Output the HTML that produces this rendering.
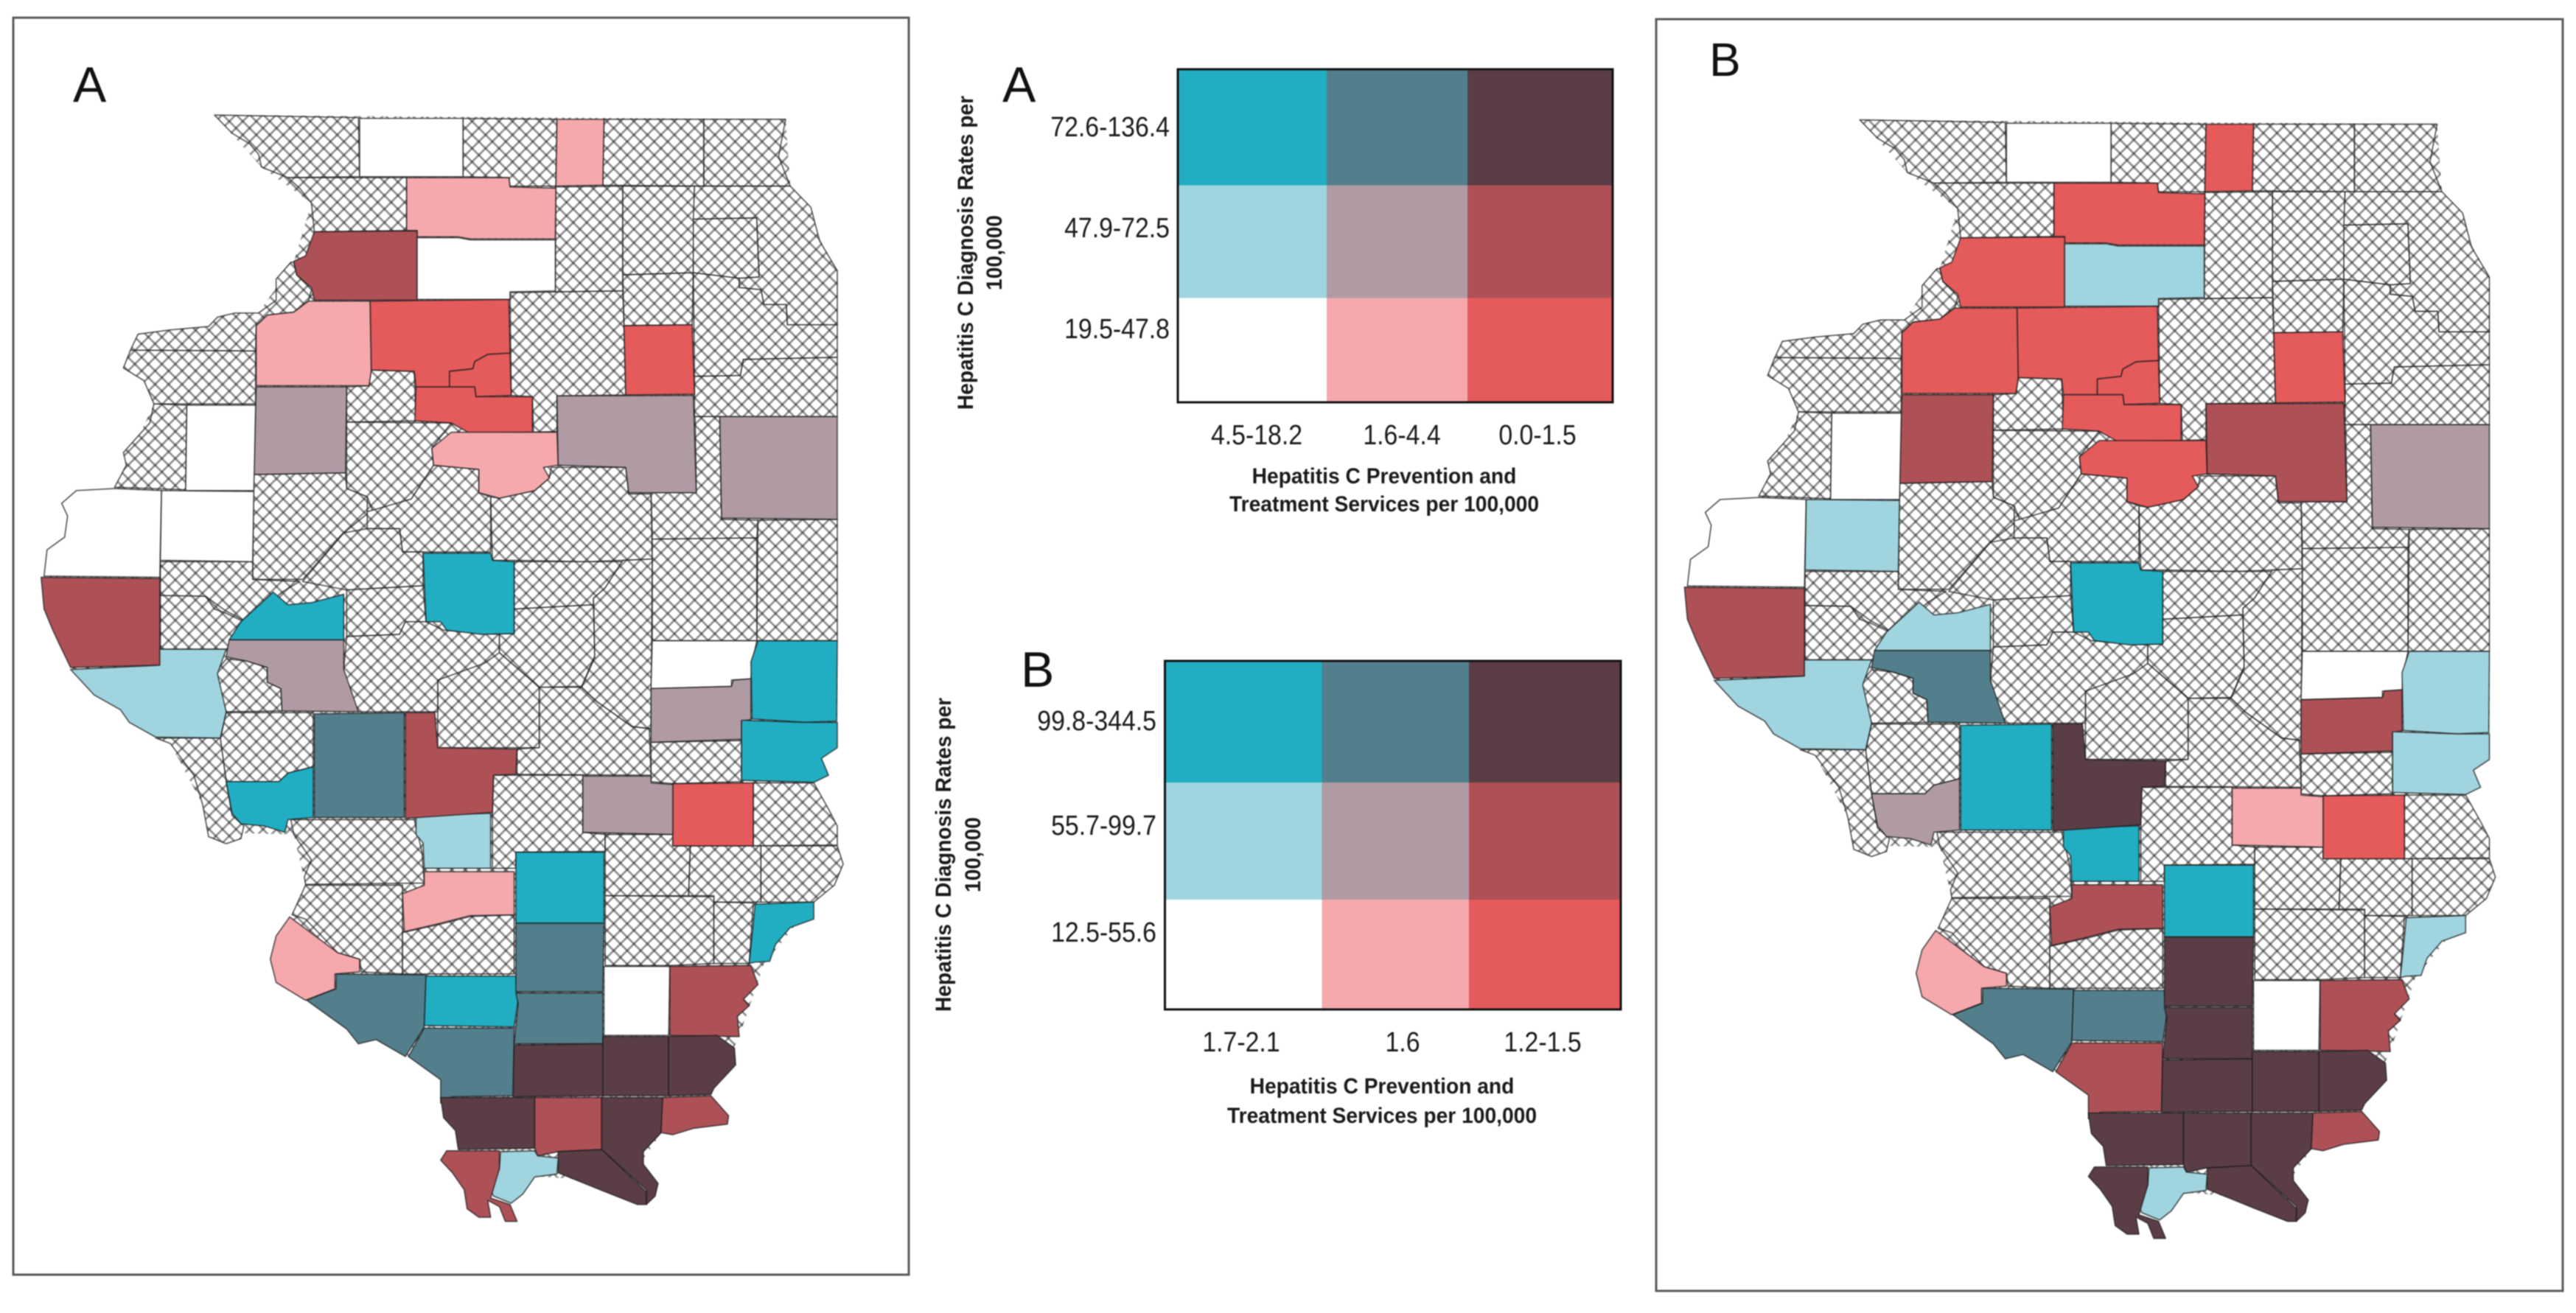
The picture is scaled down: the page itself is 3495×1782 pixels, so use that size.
<!DOCTYPE html>
<html lang="en">
<head>
<meta charset="utf-8">
<title>Hepatitis C diagnosis rates and services, Illinois bivariate maps</title>
<style>
html,body{margin:0;padding:0;background:#fff;}
svg{display:block;filter:blur(0.7px);}
text{font-family:"Liberation Sans",sans-serif;fill:#1a1a1a;}
.tick{font-size:38px;}
.title{font-size:30px;font-weight:bold;}
.panel{font-size:68px;fill:#111;}
.county{stroke:#1c1c1c;stroke-opacity:.72;stroke-width:1.7;stroke-linejoin:round;}
</style>
</head>
<body>
<svg id="figure" xmlns="http://www.w3.org/2000/svg" width="3495" height="1782" viewBox="0 0 3495 1782">
  <defs>
    <pattern id="hatch" patternUnits="userSpaceOnUse" width="18.3" height="18.3">
      <rect width="18.3" height="18.3" fill="#fff"/>
      <path d="M0 0L18.3 18.3M18.3 0L0 18.3" stroke="#8c8c8c" stroke-width="2.6" fill="none"/>
      <circle cx="9.15" cy="9.15" r="1.6" fill="#555"/>
      <circle cx="0" cy="0" r="1.6" fill="#555"/>
      <circle cx="18.3" cy="0" r="1.6" fill="#555"/>
      <circle cx="0" cy="18.3" r="1.6" fill="#555"/>
      <circle cx="18.3" cy="18.3" r="1.6" fill="#555"/>
    </pattern>
  </defs>
  <rect width="3495" height="1782" fill="#fff"/>
  <rect x="18" y="24" width="1215" height="1706" fill="#fff" stroke="#5a5a5a" stroke-width="3"/>
  <rect x="2247" y="26" width="1230" height="1726" fill="#fff" stroke="#5a5a5a" stroke-width="3"/>
  <g id="map-a"></g>
  <g id="map-b" transform="translate(2229 4.8) scale(1.011)"></g>
  <text class="panel" x="99" y="138">A</text>
  <text class="panel" x="2319" y="103" style="font-size:64px">B</text>
  <text class="panel" x="1360" y="138">A</text>
  <text class="panel" x="1385" y="932">B</text>
  <g id="legend-a"></g>
  <g id="legend-b"></g>
</svg>
<script>
// Bivariate classes: first digit = diagnosis tier, second digit = services tier, x = no data (hatched)
const classColors = {
  "20":"#21aec2","21":"#537f8d","22":"#5b3d46",
  "10":"#a0d5e0","11":"#b09ba5","12":"#ae5157",
  "00":"#ffffff","01":"#f5a9ad","02":"#e55a5a",
  "x":"url(#hatch)"
};
const legendRows = [["20","21","22"],["10","11","12"],["00","01","02"]];

const legendAXLabels = ["4.5-18.2","1.6-4.4","0.0-1.5"];
const legendAYLabels = ["72.6-136.4","47.9-72.5","19.5-47.8"];
const legendBXLabels = ["1.7-2.1","1.6","1.2-1.5"];
const legendBYLabels = ["99.8-344.5","55.7-99.7","12.5-55.6"];

const countyNames = [
"jo-daviess","stephenson","winnebago","boone","mchenry","lake","carroll","ogle","dekalb","kane",
"dupage","cook","kendall","will","kankakee","grundy","whiteside","lee","rock-island","henry",
"bureau","putnam","la-salle","marshall","stark","mercer","knox","warren","henderson","hancock",
"mcdonough","peoria","fulton","woodford","livingston","iroquois","ford","mclean","tazewell","mason",
"schuyler","adams","brown","cass","menard","logan","de-witt","vermilion","champaign","douglas",
"edgar-north","edgar","coles","clark","cumberland","jasper","effingham","fayette","montgomery","macon",
"shelby","sangamon","christian","morgan","pike","scott","greene","jersey","calhoun","macoupin",
"madison","moultrie","marion","clay","st-clair","monroe","washington","crawford","richland","lawrence",
"wayne","edwards","hamilton","wabash","randolph","perry","jefferson","franklin","hamilton-south","white",
"jackson","williamson","saline","gallatin","union","johnson","pope","hardin","massac","pulaski","alexander"];

const classesA = [
"x","00","x","01","x","x","x","01","x","x",
"x","x","x","x","x","02","12","00","x","01",
"02","02","x","02","x","x","11","00","x","00",
"00","x","x","01","11","11","x","x","x","x",
"x","12","x","20","x","20","x","x","x","x",
"00","20","11","20","x","02","11","10","12","x",
"x","x","x","11","10","x","x","20","x","21",
"x","x","01","20","x","01","x","x","x","x",
"x","x","x","20","21","20","21","21","00","12",
"21","22","22","22","22","12","22","12","22","10","12"];

const classesB = [
"x","00","x","02","x","x","x","02","x","x",
"x","x","x","x","x","02","02","10","x","02",
"02","02","x","02","x","x","12","00","x","00",
"10","x","x","02","12","11","x","x","x","x",
"x","12","x","10","x","20","x","x","x","x",
"00","10","12","10","x","02","01","20","22","x",
"x","x","x","21","10","x","x","11","x","20",
"x","x","12","20","x","01","x","x","x","x",
"x","x","x","10","21","21","22","22","00","12",
"12","22","22","22","22","22","22","12","22","10","22"];

// Outer state silhouette, hatched beneath the counties so no gaps show through
const stateOutline = "365,272 1337,282 1345,440 1425,640 1425,1708 1398,1793 1385,1850 1425,1998 1420,2093 1385,2133 1300,2280 1258,2451 1210,2588 1125,2680 1095,2740 1100,2800 900,2780 785,2715 780,2670 760,2640 755,2595 752,2553 697,2498 640,2458 610,2468 590,2433 522,2365 470,2250 497,2163 520,2093 500,1973 410,1970 345,1903 290,1758 220,1700 120,1578 75,1362 195,1155 262,955 222,828 440,740 500,620 530,480 445,395";

// County outlines; stitched tracing grid, projected by mapX / mapY
const countyOutlines = [
"365,272 610,278 612,418 490,420 445,395 440,365 425,340 395,315",
"612,280 788,280 788,418 612,418",
"788,280 948,282 946,440 868,440 866,420 788,418",
"948,282 1028,282 1026,438 946,440",
"1028,282 1198,282 1198,440 1026,438",
"1198,282 1337,282 1325,370 1345,440 1198,440",
"490,420 692,420 692,545 535,548 530,480 510,445",
"692,420 866,420 868,442 946,445 945,565 800,565 780,560 710,560 710,545 692,545",
"946,442 1060,440 1060,688 945,690",
"1060,440 1182,440 1180,645 1060,650",
"1180,518 1288,515 1292,655 1258,658 1180,645",
"1182,440 1345,440 1380,490 1395,570 1425,640 1425,768 1340,768 1338,720 1300,720 1295,685 1258,680 1258,658 1292,655 1288,515 1180,518",
"1060,650 1180,645 1178,768 1062,770",
"1180,645 1258,658 1258,680 1295,685 1300,720 1338,720 1340,768 1425,768 1425,845 1265,850 1260,888 1182,890",
"1265,850 1425,845 1425,985 1182,985 1182,890 1260,888",
"1062,770 1178,768 1182,932 1065,934",
"535,548 710,546 710,710 535,710 530,680 505,650 500,618 520,605",
"710,562 780,562 800,567 945,567 945,688 868,690 868,708 710,708",
"495,620 470,660 470,710 440,740 400,740 370,750 355,772 290,780 235,790 222,828 435,830 436,770 455,745 500,738 525,712 530,685 505,650 500,620",
"525,712 630,712 632,875 628,912 436,912 436,770 455,745 500,738",
"630,712 866,708 868,835 830,838 808,855 805,872 765,878 765,915 708,915 705,878 632,875",
"765,878 805,872 808,855 830,838 868,835 870,935 810,938 808,915 765,915",
"868,692 1060,688 1062,770 1065,934 948,936 948,1020 908,1022 906,938 870,935",
"708,915 808,915 810,938 906,938 906,1022 800,1025 768,1000 706,995",
"632,875 705,878 708,995 590,998 590,915 628,912",
"222,828 435,830 435,955 262,955 245,900 210,870",
"436,915 590,915 588,1118 432,1122",
"318,958 435,958 432,1160 316,1160",
"262,955 318,958 316,1158 195,1152 215,1100 210,1070 255,1000",
"195,1155 275,1160 272,1365 75,1362 80,1300 110,1270 115,1220 105,1190 130,1160",
"275,1160 432,1162 430,1328 273,1325",
"590,998 768,1000 735,1060 738,1100 700,1180 635,1210 625,1175 590,1155",
"432,1122 588,1118 590,1155 625,1175 625,1215 585,1260 515,1370 430,1370",
"768,1022 948,1022 950,1100 925,1105 935,1130 910,1160 850,1178 815,1165 815,1110 738,1100 735,1060",
"948,936 1180,935 1185,1165 1070,1165 1065,1105 950,1100",
"1225,985 1425,985 1425,1228 1228,1225",
"1183,985 1225,985 1228,1228 1290,1230 1288,1272 1110,1275 1108,1165 1185,1165",
"938,1105 1065,1105 1070,1168 1108,1168 1110,1322 1000,1328 875,1325 838,1325 835,1175 850,1178 910,1160 935,1130",
"738,1100 815,1110 815,1165 835,1175 835,1305 720,1305 685,1305 680,1250 625,1250 625,1210 700,1180",
"625,1250 680,1250 685,1305 720,1305 720,1385 590,1395 515,1375 585,1260",
"273,1328 430,1328 430,1370 510,1375 480,1400 420,1470 385,1445 350,1410 273,1408",
"70,1365 272,1368 272,1573 120,1578 100,1520 90,1490 75,1440",
"273,1408 350,1410 365,1440 385,1450 415,1470 395,1515 386,1535 273,1535",
"410,1470 465,1400 490,1430 530,1425 585,1405 585,1513 390,1513",
"590,1395 720,1385 725,1470 690,1470 680,1500 590,1505",
"720,1308 835,1308 838,1325 875,1328 875,1498 820,1500 760,1490 750,1470 725,1470",
"875,1328 1060,1328 1030,1390 1010,1415 1010,1430 875,1440",
"1290,1230 1425,1228 1425,1515 1288,1515",
"1110,1275 1288,1272 1288,1515 1110,1515",
"1060,1325 1110,1322 1108,1723 1075,1718 1015,1658 990,1625 1012,1555 1010,1415 1030,1390",
"1110,1515 1288,1515 1280,1570 1278,1605 1245,1608 1245,1623 1108,1628",
"1290,1515 1425,1515 1424,1705 1370,1708 1280,1700 1278,1565",
"1108,1628 1245,1623 1248,1608 1278,1605 1278,1701 1262,1705 1262,1748 1108,1755",
"1262,1703 1370,1708 1425,1708 1425,1768 1398,1793 1410,1833 1385,1850 1262,1845",
"1108,1755 1262,1751 1262,1848 1145,1853 1108,1848",
"1145,1853 1282,1851 1282,2000 1145,2000",
"992,1835 1108,1835 1108,1851 1145,1855 1145,1973 992,1968",
"708,1928 835,1923 835,2053 722,2053 720,1993 708,1973",
"690,1685 740,1685 745,1768 880,1771 878,1831 840,1833 838,1921 690,1935",
"745,1608 825,1563 850,1533 850,1543 918,1625 918,1768 745,1768",
"918,1625 990,1625 1015,1658 1075,1718 1105,1723 1108,1833 880,1831 880,1771 918,1768",
"590,1505 680,1500 690,1470 725,1470 755,1490 850,1500 850,1543 825,1568 745,1608 745,1683 610,1683 590,1633 585,1583",
"850,1498 875,1498 875,1440 1010,1430 1012,1551 990,1623 918,1625 850,1543",
"390,1513 585,1513 585,1583 610,1683 480,1681 478,1628 455,1613 455,1578 420,1563 385,1553",
"120,1583 272,1573 272,1535 385,1535 370,1593 385,1683 375,1745 265,1743 220,1708 205,1678 160,1643",
"385,1558 420,1563 455,1578 455,1613 478,1628 480,1681 385,1683 370,1623 365,1593",
"385,1685 533,1685 533,1813 490,1828 475,1848 385,1848 375,1748",
"385,1848 475,1848 490,1828 533,1813 533,1933 490,1938 485,1968 450,1953 410,1948 395,1923",
"265,1745 375,1745 385,1848 395,1928 415,1953 410,1983 385,1995 355,1978 345,1903 330,1833 290,1758",
"535,1688 688,1685 688,1933 535,1933",
"495,1938 705,1938 718,2013 722,2088 520,2091 518,2073 530,2033 500,1973",
"840,1833 992,1833 992,1968 1030,1973 1030,2013 878,2015 878,2053 838,2053 838,1923",
"722,2061 875,2061 875,2163 800,2165 750,2183 688,2203 685,2113 722,2093",
"878,2015 1028,2015 1028,2183 878,2183",
"520,2093 685,2093 685,2303 615,2298 612,2268 575,2253 520,2173 497,2163",
"493,2168 575,2253 612,2268 612,2298 570,2303 570,2338 520,2365 470,2323 460,2268 470,2213",
"685,2205 750,2185 800,2167 875,2163 875,2303 685,2303",
"1030,1973 1145,1973 1145,2000 1175,2000 1172,2118 1030,2118",
"1282,1851 1385,1851 1410,1913 1425,1953 1425,1998 1282,2000",
"1175,2000 1295,2000 1295,2133 1215,2133 1215,2118 1172,2118",
"1295,2000 1425,2000 1435,2043 1420,2093 1385,2133 1295,2133",
"1030,2118 1215,2120 1215,2278 1140,2283 1030,2283",
"1215,2133 1282,2135 1275,2278 1215,2278",
"1285,2138 1385,2133 1385,2173 1345,2193 1320,2233 1310,2273 1285,2275 1275,2278 1280,2213",
"572,2303 725,2305 722,2428 690,2498 640,2458 610,2468 590,2433 522,2365 572,2338",
"725,2308 878,2308 882,2363 875,2428 722,2425",
"878,2183 1028,2183 1026,2345 878,2345",
"878,2348 1026,2348 1026,2468 875,2468 882,2373",
"1028,2285 1140,2285 1138,2448 1028,2448",
"1140,2285 1278,2283 1290,2328 1265,2363 1275,2378 1255,2403 1258,2451 1140,2448",
"722,2431 875,2431 873,2591 770,2593 750,2608 750,2553 695,2498",
"875,2471 1026,2468 1026,2591 873,2593",
"1026,2451 1138,2451 1138,2591 1026,2591",
"1138,2451 1220,2448 1250,2478 1252,2518 1215,2573 1210,2588 1138,2591",
"750,2595 910,2595 910,2715 780,2718 775,2673 755,2643",
"910,2595 1024,2595 1024,2718 950,2723 915,2733 910,2715",
"1024,2595 1128,2595 1125,2678 1095,2723 1095,2753 1120,2798 1115,2828 1100,2848 1100,2813 1024,2718",
"1128,2595 1210,2591 1240,2638 1238,2658 1180,2668 1145,2683 1125,2678",
"950,2723 1024,2718 1100,2818 1100,2848 1085,2848 1030,2818 950,2773",
"852,2723 910,2721 915,2733 950,2738 948,2776 910,2783 890,2823 870,2845 840,2828 835,2813 850,2763",
"760,2721 850,2721 850,2763 835,2833 868,2848 880,2888 860,2888 850,2853 830,2838 835,2878 815,2878 795,2858 790,2813 770,2773 750,2743"
];

const SVGNS = "http://www.w3.org/2000/svg";
function mapX(x){ return x * 0.7972; }
function mapY(y){ return y * 0.574; }
function projectOutline(str){
  return str.split(" ").map(function(p){
    const c = p.split(",");
    return mapX(+c[0]).toFixed(1) + "," + mapY(+c[1]).toFixed(1);
  }).join(" ");
}

function drawMap(groupId, classes, prefix){
  const g = document.getElementById(groupId);
  const base = document.createElementNS(SVGNS, "polygon");
  base.setAttribute("points", projectOutline(stateOutline));
  base.setAttribute("fill", "url(#hatch)");
  
  
  g.appendChild(base);
  const order = countyNames.map(function(_, i){ return i; });
  order.sort(function(a, b){ return (classes[a] === "x" ? 0 : 1) - (classes[b] === "x" ? 0 : 1); });
  order.forEach(function(i){
    const poly = document.createElementNS(SVGNS, "polygon");
    poly.setAttribute("points", projectOutline(countyOutlines[i]));
    poly.setAttribute("fill", classColors[classes[i]]);
    poly.setAttribute("class", "county");
    
    
    g.appendChild(poly);
  });
}

function addText(g, cls, x, y, anchor, content, name, rotate, condense){
  const t = document.createElementNS(SVGNS, "text");
  t.setAttribute("class", cls);
  t.setAttribute("text-anchor", anchor);
  t.setAttribute("dominant-baseline", "middle");
  if (rotate) {
    t.setAttribute("transform", "translate(" + x + " " + y + ") rotate(-90)");
  } else {
    t.setAttribute("x", x);
    t.setAttribute("y", y);
  }
  t.textContent = content;
  
  
  g.appendChild(t);
  t.setAttribute("lengthAdjust", "spacingAndGlyphs");
  t.setAttribute("textLength", (t.getComputedTextLength() * condense).toFixed(1));
}

function drawLegend(groupId, prefix, xEdges, yEdges, xLabels, yLabels, xLabelCentres, yLabelCentres, xLabelY, yLabelX, xTitle, yTitle){
  const g = document.getElementById(groupId);
  legendRows.forEach(function(row, r){
    row.forEach(function(code, c){
      const cell = document.createElementNS(SVGNS, "rect");
      cell.setAttribute("x", xEdges[c]);
      cell.setAttribute("y", yEdges[r]);
      cell.setAttribute("width", xEdges[c + 1] - xEdges[c]);
      cell.setAttribute("height", yEdges[r + 1] - yEdges[r]);
      cell.setAttribute("fill", classColors[code]);
      
      
      g.appendChild(cell);
    });
  });
  const box = document.createElementNS(SVGNS, "rect");
  box.setAttribute("x", xEdges[0]);
  box.setAttribute("y", yEdges[0]);
  box.setAttribute("width", xEdges[3] - xEdges[0]);
  box.setAttribute("height", yEdges[3] - yEdges[0]);
  box.setAttribute("fill", "none");
  box.setAttribute("stroke", "#111");
  box.setAttribute("stroke-width", "3");
  
  
  g.appendChild(box);
  xLabels.forEach(function(label, i){
    addText(g, "tick", xLabelCentres[i], xLabelY, "middle", label, prefix + "-x-tick-" + i, false, 0.89);
  });
  yLabels.forEach(function(label, i){
    addText(g, "tick", yLabelX, yLabelCentres[i], "end", label, prefix + "-y-tick-" + i, false, 0.89);
  });
  addText(g, "title", xTitle.x, xTitle.y1, "middle", "Hepatitis C Prevention and", prefix + "-x-title-line-1", false, 0.94);
  addText(g, "title", xTitle.x, xTitle.y2, "middle", "Treatment Services per 100,000", prefix + "-x-title-line-2", false, 0.94);
  addText(g, "title", yTitle.x1, yTitle.y, "middle", "Hepatitis C Diagnosis Rates per", prefix + "-y-title-line-1", true, 0.94);
  addText(g, "title", yTitle.x2, yTitle.y, "middle", "100,000", prefix + "-y-title-line-2", true, 0.94);
}

drawMap("map-a", classesA, "map-a");
drawMap("map-b", classesB, "map-b");
drawLegend("legend-a", "legend-a",
  [1598,1800,1991,2188], [94,251.5,404.5,546],
  legendAXLabels, legendAYLabels,
  [1705,1902,2086], [175,312,449], 593, 1587,
  {x:1878,y1:648,y2:686}, {x1:1312,x2:1351,y:343});
drawLegend("legend-b", "legend-b",
  [1580.5,1793.5,1993,2199], [897,1062,1221,1370],
  legendBXLabels, legendBYLabels,
  [1684,1903,2093], [981,1123,1268], 1417, 1569,
  {x:1875,y1:1476,y2:1516}, {x1:1282,x2:1322,y:1160});
</script>
</body>
</html>
